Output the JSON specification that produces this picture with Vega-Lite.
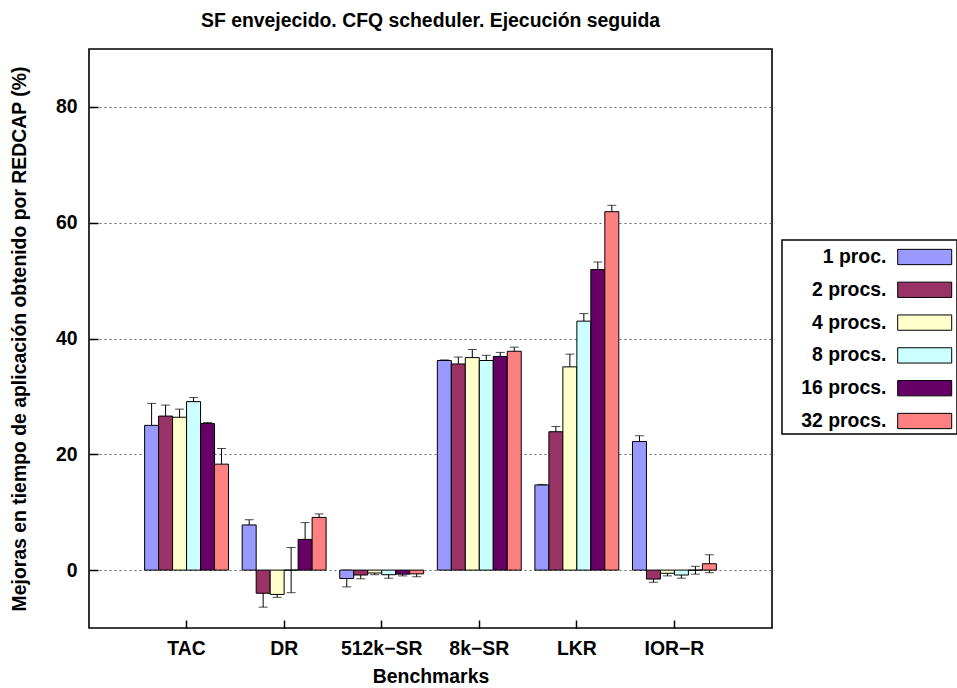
{
  "$schema": "https://vega.github.io/schema/vega-lite/v6.json",
  "width": 683,
  "height": 579,
  "autosize": {"type": "none"},
  "padding": {"left": 89, "top": 49, "right": 185, "bottom": 60},
  "background": "white",
  "title": {
    "text": "SF envejecido. CFQ scheduler. Ejecución seguida",
    "font": "Liberation Sans",
    "fontSize": 19.4,
    "fontWeight": "bold",
    "color": "black",
    "anchor": "middle",
    "offset": 18
  },
  "config": {
    "font": "Liberation Sans",
    "view": {"stroke": "black", "strokeWidth": 1.6},
    "axis": {
      "labelFont": "Liberation Sans",
      "labelFontSize": 19.4,
      "labelFontWeight": "bold",
      "labelColor": "black",
      "titleFont": "Liberation Sans",
      "titleFontSize": 19.4,
      "titleFontWeight": "bold",
      "titleColor": "black",
      "domain": false,
      "tickColor": "black",
      "tickWidth": 1.5
    }
  },
  "data": {
    "values": [
      {"bench": "TAC", "procs": "1 proc.", "value": 25.0, "lo": 21.2, "hi": 28.8},
      {"bench": "TAC", "procs": "2 procs.", "value": 26.6, "lo": 24.7, "hi": 28.5},
      {"bench": "TAC", "procs": "4 procs.", "value": 26.4, "lo": 25.0, "hi": 27.8},
      {"bench": "TAC", "procs": "8 procs.", "value": 29.1, "lo": 28.4, "hi": 29.8},
      {"bench": "TAC", "procs": "16 procs.", "value": 25.3, "lo": 25.1, "hi": 25.5},
      {"bench": "TAC", "procs": "32 procs.", "value": 18.3, "lo": 15.6, "hi": 21.0},
      {"bench": "DR", "procs": "1 proc.", "value": 7.8, "lo": 6.9, "hi": 8.7},
      {"bench": "DR", "procs": "2 procs.", "value": -4.0, "lo": -6.4, "hi": -1.6},
      {"bench": "DR", "procs": "4 procs.", "value": -4.2, "lo": -4.7, "hi": -3.7},
      {"bench": "DR", "procs": "8 procs.", "value": 0.0, "lo": -3.9, "hi": 3.9},
      {"bench": "DR", "procs": "16 procs.", "value": 5.3, "lo": 2.4, "hi": 8.2},
      {"bench": "DR", "procs": "32 procs.", "value": 9.1, "lo": 8.5, "hi": 9.7},
      {"bench": "512k−SR", "procs": "1 proc.", "value": -1.45, "lo": -2.9, "hi": 0.0},
      {"bench": "512k−SR", "procs": "2 procs.", "value": -0.85, "lo": -1.5, "hi": -0.2},
      {"bench": "512k−SR", "procs": "4 procs.", "value": -0.5, "lo": -0.8, "hi": -0.2},
      {"bench": "512k−SR", "procs": "8 procs.", "value": -0.8, "lo": -1.4, "hi": -0.2},
      {"bench": "512k−SR", "procs": "16 procs.", "value": -0.7, "lo": -1.0, "hi": -0.4},
      {"bench": "512k−SR", "procs": "32 procs.", "value": -0.65, "lo": -1.15, "hi": -0.15},
      {"bench": "8k−SR", "procs": "1 proc.", "value": 36.2, "lo": 36.1, "hi": 36.3},
      {"bench": "8k−SR", "procs": "2 procs.", "value": 35.6, "lo": 34.4, "hi": 36.8},
      {"bench": "8k−SR", "procs": "4 procs.", "value": 36.7, "lo": 35.3, "hi": 38.1},
      {"bench": "8k−SR", "procs": "8 procs.", "value": 36.2, "lo": 35.3, "hi": 37.1},
      {"bench": "8k−SR", "procs": "16 procs.", "value": 36.9, "lo": 36.2, "hi": 37.6},
      {"bench": "8k−SR", "procs": "32 procs.", "value": 37.8, "lo": 37.1, "hi": 38.5},
      {"bench": "LKR", "procs": "1 proc.", "value": 14.7, "lo": 14.6, "hi": 14.8},
      {"bench": "LKR", "procs": "2 procs.", "value": 23.9, "lo": 23.0, "hi": 24.8},
      {"bench": "LKR", "procs": "4 procs.", "value": 35.1, "lo": 32.9, "hi": 37.3},
      {"bench": "LKR", "procs": "8 procs.", "value": 43.0, "lo": 41.7, "hi": 44.3},
      {"bench": "LKR", "procs": "16 procs.", "value": 51.9, "lo": 50.6, "hi": 53.2},
      {"bench": "LKR", "procs": "32 procs.", "value": 61.9, "lo": 60.8, "hi": 63.0},
      {"bench": "IOR−R", "procs": "1 proc.", "value": 22.2, "lo": 21.2, "hi": 23.2},
      {"bench": "IOR−R", "procs": "2 procs.", "value": -1.55, "lo": -2.1, "hi": -1.0},
      {"bench": "IOR−R", "procs": "4 procs.", "value": -0.55, "lo": -1.0, "hi": -0.1},
      {"bench": "IOR−R", "procs": "8 procs.", "value": -0.85, "lo": -1.4, "hi": -0.3},
      {"bench": "IOR−R", "procs": "16 procs.", "value": 0.0, "lo": -0.7, "hi": 0.65},
      {"bench": "IOR−R", "procs": "32 procs.", "value": 1.1, "lo": -0.45, "hi": 2.65}
    ]
  },
  "encoding": {
    "x": {
      "field": "bench",
      "type": "nominal",
      "sort": ["TAC", "DR", "512k−SR", "8k−SR", "LKR", "IOR−R"],
      "scale": {"paddingInner": 0.14, "paddingOuter": 0.57},
      "axis": {
        "title": "Benchmarks",
        "labelAngle": 0,
        "tickSize": -8,
        "labelPadding": 34,
        "labelBaseline": "alphabetic",
        "titleBaseline": "alphabetic",
        "titleX": 341.5,
        "titleY": 54
      }
    },
    "xOffset": {
      "field": "procs",
      "type": "nominal",
      "sort": ["1 proc.", "2 procs.", "4 procs.", "8 procs.", "16 procs.", "32 procs."],
      "scale": {"paddingInner": 0, "paddingOuter": 0}
    }
  },
  "layer": [
    {
      "mark": {"type": "rule", "color": "black", "strokeWidth": 1},
      "encoding": {
        "y": {"field": "lo", "type": "quantitative", "title": "Mejoras en tiempo de aplicación obtenido por REDCAP (%)"},
        "y2": {"field": "hi"}
      }
    },
    {
      "mark": {"type": "tick", "color": "black", "size": 9, "thickness": 1},
      "encoding": {
        "y": {"field": "hi", "type": "quantitative", "title": "Mejoras en tiempo de aplicación obtenido por REDCAP (%)"}
      }
    },
    {
      "mark": {"type": "tick", "color": "black", "size": 9, "thickness": 1},
      "encoding": {
        "y": {"field": "lo", "type": "quantitative", "title": "Mejoras en tiempo de aplicación obtenido por REDCAP (%)"}
      }
    },
    {
      "mark": {"type": "bar", "stroke": "black", "strokeWidth": 1, "opacity": 1},
      "encoding": {
        "y": {
          "field": "value",
          "type": "quantitative",
          "scale": {"domain": [-10, 90], "nice": false, "zero": false},
          "title": "Mejoras en tiempo de aplicación obtenido por REDCAP (%)",
          "axis": {
            "values": [0, 20, 40, 60, 80],
            "grid": true,
            "gridColor": "#666666",
            "gridDash": [2, 3],
            "gridWidth": 1.2,
            "tickSize": -9,
            "labelPadding": 21,
            "labelBaseline": "middle",
            "titleX": -64,
            "titleY": 289.5,
            "titleAngle": 270,
            "titleBaseline": "alphabetic",
            "titleAlign": "center"
          }
        },
        "color": {
          "field": "procs",
          "type": "nominal",
          "sort": ["1 proc.", "2 procs.", "4 procs.", "8 procs.", "16 procs.", "32 procs."],
          "scale": {
            "domain": ["1 proc.", "2 procs.", "4 procs.", "8 procs.", "16 procs.", "32 procs."],
            "range": ["#9999ff", "#993366", "#ffffcc", "#ccffff", "#660066", "#ff8080"]
          },
          "legend": {
            "title": null,
            "orient": "none",
            "legendX": 693,
            "legendY": 191,
            "symbolType": "M-2,-0.567H2V0.567H-2Z",
            "symbolSize": 729,
            "symbolOffset": 125.7,
            "symbolStrokeColor": "black",
            "symbolStrokeWidth": 1,
            "symbolOpacity": 1,
            "labelFont": "Liberation Sans",
            "labelFontSize": 19.4,
            "labelFontWeight": "bold",
            "labelColor": "black",
            "labelAlign": "right",
            "labelOffset": -52.3,
            "labelLimit": 300,
            "rowPadding": 8.8,
            "padding": 3,
            "strokeColor": "black",
            "encode": {
              "legend": {"update": {"strokeWidth": {"value": 1.5}}}
            }
          }
        }
      }
    }
  ]
}
